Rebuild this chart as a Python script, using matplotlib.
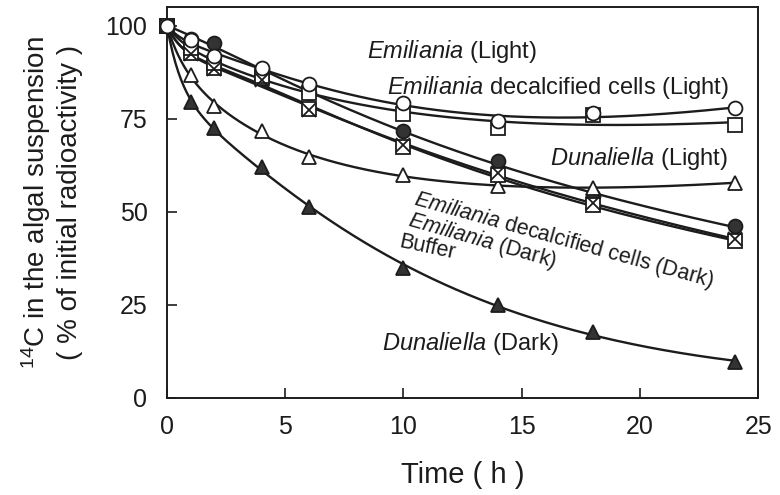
import numpy as np
import matplotlib
matplotlib.use("Agg")
import matplotlib.pyplot as plt

# =========================
# FONTS
# =========================
plt.rcParams['font.family'] = ['Liberation Sans', 'DejaVu Sans']
plt.rcParams['mathtext.fontset'] = 'custom'
plt.rcParams['mathtext.rm'] = 'Liberation Sans'
plt.rcParams['mathtext.it'] = 'Liberation Sans:italic'

# =========================
# DATA (% of initial 14C left in suspension)
# =========================
time_h = [0, 1, 2, 4, 6, 10, 14, 18, 24]

emiliania_light = [100, 96.0, 91.7, 88.7, 84.4, 79.2, 74.4, 76.4, 77.8]
decalc_light = [100, 94.0, 90.0, 86.5, 82.0, 76.3, 72.5, 76.0, 73.2]
dunaliella_light = [100, 86.8, 78.5, 71.8, 64.6, 60.0, 56.8, 56.5, 57.8]
emiliania_dark = [100, 96.5, 95.4, 88.0, 81.8, 71.6, 63.5, 54.2, 46.1]
decalc_dark = [100, 92.5, 88.5, 85.8, 77.7, 67.3, 59.8, 51.7, 42.1]
buffer_dark = [100, 92.3, 88.2, 85.3, 77.2, 67.9, 60.4, 52.3, 42.6]
dunaliella_dark = [100, 79.6, 72.4, 62.0, 51.2, 34.9, 24.9, 17.7, 9.6]

x_ticks = [0, 5, 10, 15, 20, 25]
y_ticks = [0, 25, 50, 75, 100]


# smooth least-squares fit used for the drawn curves
def fit_curve(t, y, t_new):
    t = np.asarray(t, float)
    y = np.asarray(y, float)

    def basis(x):
        return np.column_stack([np.ones_like(x), x, np.exp(-x / 0.6),
                                np.exp(-x / 3.0), np.exp(-x / 12.0)])

    w = np.ones_like(t)
    w[0] = 10
    coef, *_ = np.linalg.lstsq(basis(t) * w[:, None], y * w, rcond=None)
    return basis(t_new) @ coef


INK = '#1c1c1c'
FILL = '#333333'

fig = plt.figure(figsize=(7.8, 4.95), dpi=100)
ax = fig.add_axes([0.214, 0.196, 0.758, 0.790])

t_fine = np.linspace(0, 24, 400)

# (values, marker, face, size, zorder)
series = [
    (emiliania_dark, 'o', FILL, 10, 3),
    (dunaliella_dark, '^', FILL, 10, 3),
    (dunaliella_light, '^', 'white', 10, 4),
    (decalc_dark, 's', 'white', 9.5, 5),
    (buffer_dark, 'x', 'none', 9.5, 6),
    (decalc_light, 's', 'white', 9.5, 5),
    (emiliania_light, 'o', 'white', 10, 7),
]

for vals, mk, face, ms, z in series:
    ax.plot(t_fine, fit_curve(time_h, vals, t_fine), color=INK, lw=1.7, zorder=2)
    ax.plot(time_h, vals, linestyle='none', marker=mk, markersize=ms,
            markerfacecolor=face, markeredgecolor=INK, markeredgewidth=1.3,
            zorder=z, clip_on=False)

# curve labels
lab_kw = dict(fontsize=17, color=INK, ha='left', va='baseline')
ax.text(8.45, 91.3, r'$\mathit{Emiliania}$ (Light)', **lab_kw)
ax.text(9.3, 81.7, r'$\mathit{Emiliania}$ decalcified cells (Light)', **lab_kw)
ax.text(16.2, 62.5, r'$\mathit{Dunaliella}$ (Light)', **lab_kw)
ax.text(9.1, 12.9, r'$\mathit{Dunaliella}$ (Dark)', **lab_kw)

rot_kw = dict(lab_kw, fontsize=15.5, rotation_mode='anchor')
ax.text(10.4, 51.9, r'$\mathit{Emiliania}$ decalcified cells (Dark)', rotation=-15.5, **rot_kw)
ax.text(10.15, 46.4, r'$\mathit{Emiliania}$ (Dark)', rotation=-16, **rot_kw)
ax.text(9.77, 40.6, 'Buffer', rotation=-12, **rot_kw)

# axes
ax.set_xlim(0, 25)
ax.set_ylim(0, 105)
ax.set_xticks(x_ticks)
ax.set_yticks(y_ticks)
ax.tick_params(direction='in', length=7, width=1.2, labelsize=18, colors=INK, pad=12)
ax.tick_params(axis='y', pad=14)
for sp in ax.spines.values():
    sp.set_linewidth(1.4)
    sp.set_color(INK)

ax.set_xlabel('Time ( h )', fontsize=21, color=INK, labelpad=16)
ax.set_ylabel(r'$^{14}$C in the algal suspension' + '\n' + '( % of initial radioactivity )',
              fontsize=20, color=INK, labelpad=16, linespacing=1.2)

fig.savefig('out.png', dpi=100, facecolor='white')
